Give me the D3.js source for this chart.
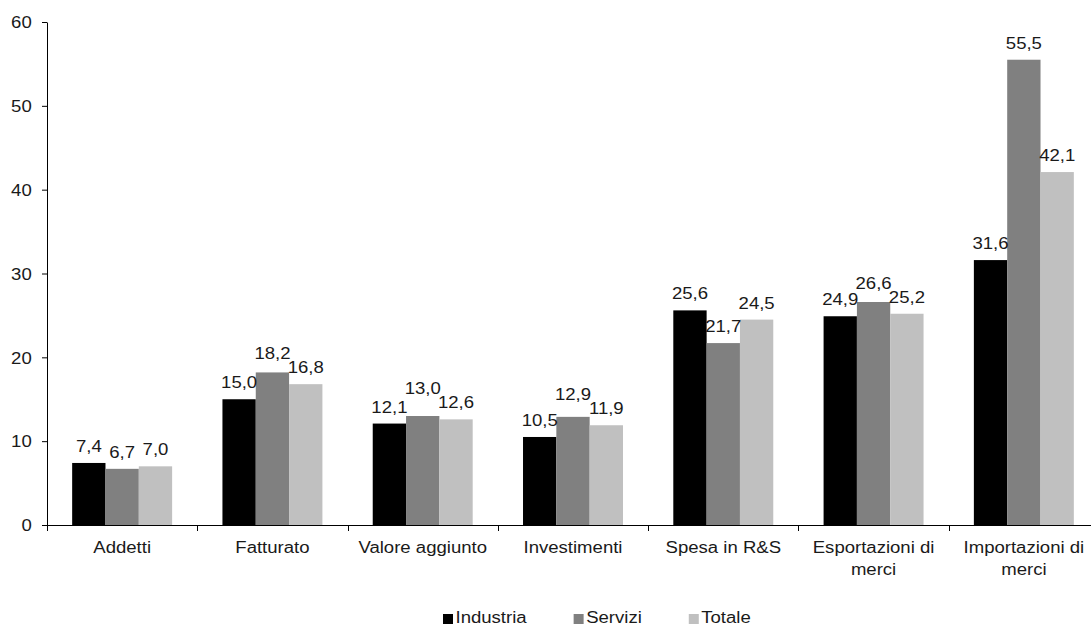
<!DOCTYPE html>
<meta charset="utf-8">
<style>
body { margin: 0; background: #fff; overflow: hidden; }
text { font-family: "Liberation Sans", Arial, sans-serif; font-size: 16px; fill: #1a1a1a; }
</style>
<script src="https://d3js.org/d3.v7.min.js"></script>
<div id="chart"></div>
<script>
// data
var categories = ["Addetti", "Fatturato", "Valore aggiunto", "Investimenti", "Spesa in R&S", "Esportazioni di merci", "Importazioni di merci"];
var seriesNames = ["Industria", "Servizi", "Totale"];
var industria = [7.4, 15.0, 12.1, 10.5, 25.6, 24.9, 31.6];
var servizi   = [6.7, 18.2, 13.0, 12.9, 21.7, 26.6, 55.5];
var totale    = [7.0, 16.8, 12.6, 11.9, 24.5, 25.2, 42.1];
var yTicks = [0, 10, 20, 30, 40, 50, 60];

var colors = ["#000000", "#808080", "#c0c0c0"];
var SX = 1.16; // text is a bit wide in the original

var W = 1091, H = 626;
var plotLeft = 47, plotRight = 1099, plotTop = 22, plotBottom = 525;

var svg = d3.select("#chart").append("svg")
    .attr("width", W)
    .attr("height", H);

var x0 = d3.scaleBand().domain(categories).range([plotLeft, plotRight]).padding(0);
var x1 = d3.scaleBand().domain(seriesNames).range([0, x0.bandwidth()]).paddingInner(0).paddingOuter(0.755);
var y = d3.scaleLinear().domain([0, 60]).range([plotBottom, plotTop]);

var rows = categories.map(function(c, i) {
    return { cat: c, vals: [industria[i], servizi[i], totale[i]] };
});

// bars
var groups = svg.selectAll("g.cat")
    .data(rows)
    .enter().append("g")
    .attr("class", "cat")
    .attr("transform", function(d) { return "translate(" + x0(d.cat) + ",0)"; });

groups.selectAll("rect")
    .data(function(d) { return d.vals.map(function(v, j) { return { s: seriesNames[j], v: v, j: j }; }); })
    .enter().append("rect")
    .attr("x", function(d) { return x1(d.s); })
    .attr("width", x1.bandwidth())
    .attr("y", function(d) { return y(d.v); })
    .attr("height", function(d) { return plotBottom - y(d.v); })
    .attr("fill", function(d) { return colors[d.j]; });

// value labels, nudged up when they bump into a neighbour
groups.each(function(d) {
    var g = d3.select(this);
    var labs = d.vals.map(function(v, j) {
        var t = g.append("text")
            .attr("text-anchor", "middle")
            .text(d3.format(".1f")(v).replace(".", ","));
        return {
            node: t,
            cx: x1(seriesNames[j]) + x1.bandwidth() / 2,
            w: t.node().getComputedTextLength() * SX,
            base: y(v) - 11,
            top: y(v)
        };
    });
    for (var pass = 0; pass < 3; pass++) {
        for (var a = 0; a < labs.length; a++) {
            for (var b = a + 1; b < labs.length; b++) {
                var A = labs[a], B = labs[b];
                var hOver = Math.abs(A.cx - B.cx) < (A.w + B.w) / 2 + 2;
                var vOver = Math.abs(A.base - B.base) < 14;
                if (hOver && vOver) {
                    var up = A.top < B.top ? A : B;
                    var other = up === A ? B : A;
                    up.base = other.base - 14;
                }
            }
        }
    }
    labs.forEach(function(l) {
        l.node.attr("transform", "translate(" + l.cx + "," + l.base + ") scale(" + SX + ",1)");
    });
});

// y axis
var yAxis = d3.axisLeft(y).tickValues(yTicks).tickSize(5).tickSizeOuter(0).tickPadding(0);
var gy = svg.append("g")
    .attr("transform", "translate(" + plotLeft + ",0)")
    .call(yAxis);
gy.select(".domain").attr("stroke", "#000");
gy.selectAll(".tick line").attr("stroke", "#000");
gy.selectAll(".tick text")
    .attr("x", -15.3 / SX)
    .attr("dy", "0.36em")
    .attr("transform", "scale(" + SX + ",1)")
    .attr("fill", "#1a1a1a")
    .style("font-size", "16px")
    .style("font-family", "'Liberation Sans', Arial, sans-serif");

// x axis
var bounds = categories.map(function(c) { return x0(c); }).concat([plotRight]);
svg.append("line")
    .attr("x1", plotLeft).attr("x2", plotRight)
    .attr("y1", plotBottom + 0.5).attr("y2", plotBottom + 0.5)
    .attr("stroke", "#000");
svg.selectAll("line.xt")
    .data(bounds)
    .enter().append("line")
    .attr("class", "xt")
    .attr("x1", function(d) { return Math.round(d) + 0.5; })
    .attr("x2", function(d) { return Math.round(d) + 0.5; })
    .attr("y1", plotBottom)
    .attr("y2", plotBottom + 6)
    .attr("stroke", "#000");

var xl = svg.selectAll("g.xl")
    .data(categories)
    .enter().append("g")
    .attr("class", "xl")
    .attr("transform", function(d) { return "translate(" + (x0(d) + x0.bandwidth() / 2) + ",0)"; });

xl.each(function(d) {
    var g = d3.select(this);
    var words = d.split(" ");
    var lines = [], cur = [];
    var probe = g.append("text").attr("transform", "scale(" + SX + ",1)");
    words.forEach(function(w) {
        var test = cur.concat([w]).join(" ");
        probe.text(test);
        if (cur.length && probe.node().getComputedTextLength() * SX > 150) {
            lines.push(cur.join(" "));
            cur = [w];
        } else {
            cur.push(w);
        }
    });
    lines.push(cur.join(" "));
    probe.remove();
    lines.forEach(function(l, i) {
        g.append("text")
            .attr("text-anchor", "middle")
            .attr("transform", "translate(0," + (552.5 + i * 22) + ") scale(" + SX + ",1)")
            .text(l);
    });
});

// legend
var lx = 443;
var legendY = 623;
seriesNames.forEach(function(s, i) {
    svg.append("rect")
        .attr("x", lx).attr("y", legendY - 9)
        .attr("width", 10).attr("height", 10)
        .attr("fill", colors[i]);
    var t = svg.append("text")
        .attr("transform", "translate(" + (lx + 12.5) + "," + legendY + ") scale(" + SX + ",1)")
        .text(s);
    var w = t.node().getComputedTextLength() * SX;
    lx = lx + 12.5 + w + 47;
});
</script>
